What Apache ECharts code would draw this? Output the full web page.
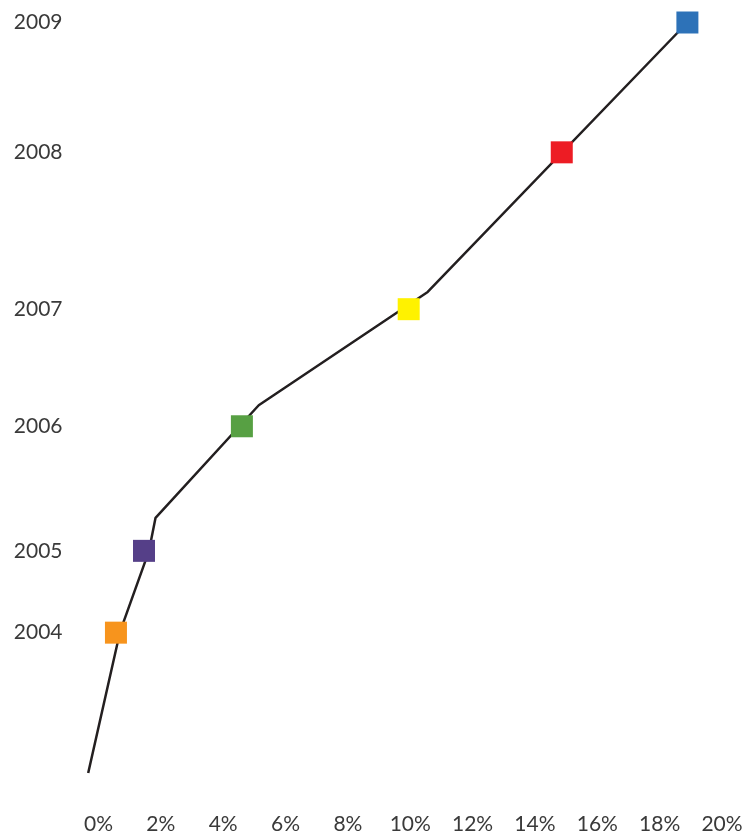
<!DOCTYPE html>
<html>
<head>
<meta charset="utf-8">
<script src="https://cdn.jsdelivr.net/npm/echarts@6/dist/echarts.min.js"></script>
<style>
html,body{margin:0;padding:0;background:#fff;}
#chart{width:746px;height:836px;}
</style>
</head>
<body>
<div id="chart"></div>
<script>
// Years and their vertical positions (arbitrary index scale 0-100)
const years = ['2004', '2005', '2006', '2007', '2008', '2009'];
const yearY = [18.7, 29.6, 46.2, 61.8, 82.7, 100];
// Percent value of each year's marker
const markerX = [0.56, 1.46, 4.60, 9.95, 14.86, 18.89];
const markerColors = ['#F7941D', '#553F88', '#57A043', '#FFF200', '#ED1C24', '#2D72B8'];
// Trend line vertices
const lineX = [-0.33, 0.69, 1.62, 1.83, 5.14, 10.56, 18.89];
const lineY = [0, 18.8, 29.6, 34.0, 49.0, 64.1, 100];
// X tick labels
const xTicks = [0, 2, 4, 6, 8, 10, 12, 14, 16, 18, 20];

const chart = echarts.init(document.getElementById('chart'));
const font = 'Lato, "Open Sans", sans-serif';

chart.setOption({
  animation: false,
  backgroundColor: '#fff',
  grid: { left: 82.9, right: 24, top: 22.5, bottom: 63 },
  xAxis: {
    type: 'value', min: -0.5, max: 20,
    axisLine: { show: false }, axisTick: { show: false }, splitLine: { show: false },
    axisLabel: {
      customValues: xTicks,
      formatter: v => v + '%', color: '#3a3a3a', fontFamily: font, fontSize: 21,
      verticalAlign: 'middle', margin: 51
    }
  },
  yAxis: {
    type: 'value', min: 0, max: 100,
    axisLine: { show: false }, axisTick: { show: false }, splitLine: { show: false },
    axisLabel: {
      customValues: yearY,
      formatter: v => { const i = yearY.indexOf(v); return i >= 0 ? years[i] : ''; },
      color: '#3a3a3a', fontFamily: font, fontSize: 21, margin: 20.4, align: 'right'
    }
  },
  series: [
    {
      type: 'line', symbol: 'none', z: 1,
      data: lineX.map((x, i) => [x, lineY[i]]),
      lineStyle: { color: '#231F20', width: 2.5 }
    },
    {
      type: 'scatter', symbol: 'rect', symbolSize: 22, z: 3,
      data: markerX.map((x, i) => ({ value: [x, yearY[i]], itemStyle: { color: markerColors[i], opacity: 1 } }))
    }
  ]
});
</script>
</body>
</html>
